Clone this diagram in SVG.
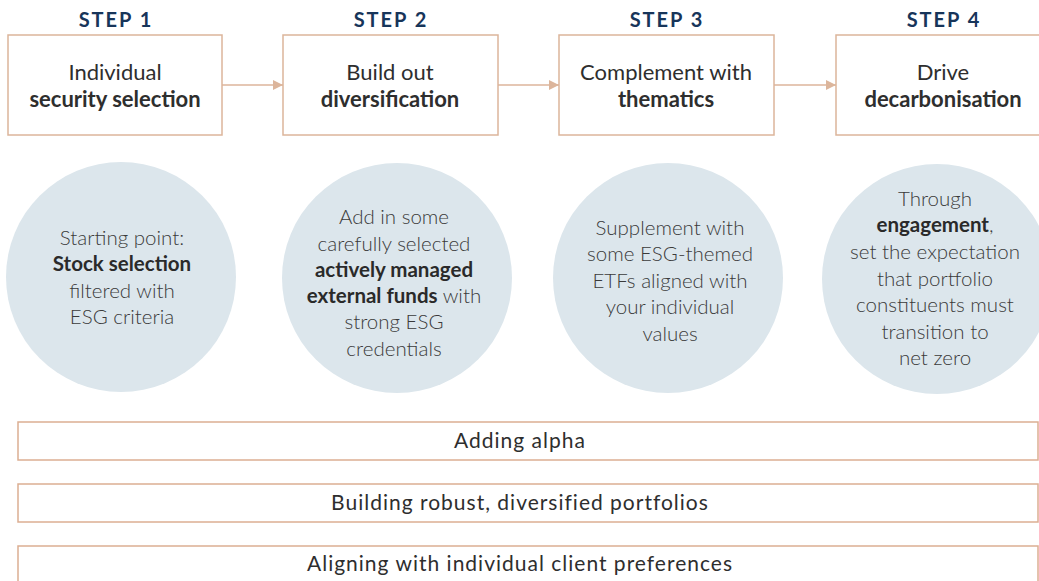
<svg xmlns="http://www.w3.org/2000/svg" width="1039" height="581" viewBox="0 0 1039 581">
<style>
.step{font-family:Lato,"Liberation Sans",sans-serif;font-weight:700;font-size:20px;letter-spacing:2px;fill:#17355a;text-anchor:middle}
.box{fill:#fff;stroke:#dcb59b;stroke-width:1.5}
.bt{font-family:Lato,"Liberation Sans",sans-serif;font-size:22px;fill:#2e2e2e;text-anchor:middle}
.b{font-weight:700}
.circ{fill:#dce6ec}
.ct{font-family:Lato,"Liberation Sans",sans-serif;font-weight:300;font-size:20.5px;fill:#3a3a3a;text-anchor:middle}
.ct .b{font-weight:700;fill:#2a2a2a}
.bar{fill:#fff;stroke:#dcae92;stroke-width:1.5}
.bart{font-family:Lato,"Liberation Sans",sans-serif;font-size:21px;letter-spacing:1px;fill:#2e2e2e;text-anchor:middle}
.conn{stroke:#dcb59b;stroke-width:1.5;fill:none}
</style>
<defs>
<marker id="ah" markerWidth="10" markerHeight="10" refX="10" refY="5" orient="auto" markerUnits="userSpaceOnUse">
<path d="M0,0 L10,5 L0,10 Z" fill="#dcb59b"/>
</marker>
</defs>
<rect width="1039" height="581" fill="#fff"/>

<g id="step1">
<text class="step" x="116" y="27">STEP 1</text>
<rect class="box" x="8" y="35" width="214" height="100"/>
<text class="bt" x="115" y="80">Individual</text>
<text class="bt b" x="115" y="107">security selection</text>
</g>
<g id="step2">
<text class="step" x="391" y="27">STEP 2</text>
<rect class="box" x="283" y="35" width="215" height="100"/>
<text class="bt" x="390" y="80">Build out</text>
<text class="bt b" x="390" y="107">diversification</text>
</g>
<g id="step3">
<text class="step" x="667" y="27">STEP 3</text>
<rect class="box" x="559" y="35" width="215" height="100"/>
<text class="bt" x="666" y="80">Complement with</text>
<text class="bt b" x="666" y="107">thematics</text>
</g>
<g id="step4">
<text class="step" x="944" y="27">STEP 4</text>
<rect class="box" x="836" y="35" width="215" height="100"/>
<text class="bt" x="943" y="80">Drive</text>
<text class="bt b" x="943" y="107">decarbonisation</text>
</g>

<g id="connectors">
<line class="conn" x1="222" y1="85" x2="283" y2="85" marker-end="url(#ah)"/>
<line class="conn" x1="498" y1="85" x2="559" y2="85" marker-end="url(#ah)"/>
<line class="conn" x1="774" y1="85" x2="836" y2="85" marker-end="url(#ah)"/>
</g>

<g id="circle1">
<circle class="circ" cx="121" cy="277" r="115"/>
<text class="ct"><tspan x="122" y="245">Starting point:</tspan><tspan x="122" y="271" class="b">Stock selection</tspan><tspan x="122" y="298">filtered with</tspan><tspan x="122" y="324">ESG criteria</tspan></text>
</g>
<g id="circle2">
<circle class="circ" cx="397" cy="278" r="115"/>
<text class="ct"><tspan x="394" y="224">Add in some</tspan><tspan x="394" y="251">carefully selected</tspan><tspan x="394" y="277" class="b">actively managed</tspan><tspan x="394" y="303"><tspan class="b">external funds</tspan> with</tspan><tspan x="394" y="329">strong ESG</tspan><tspan x="394" y="356">credentials</tspan></text>
</g>
<g id="circle3">
<circle class="circ" cx="668" cy="278" r="115"/>
<text class="ct"><tspan x="670" y="235">Supplement with</tspan><tspan x="670" y="261">some ESG-themed</tspan><tspan x="670" y="288">ETFs aligned with</tspan><tspan x="670" y="314">your individual</tspan><tspan x="670" y="341">values</tspan></text>
</g>
<g id="circle4">
<circle class="circ" cx="937" cy="279" r="115"/>
<text class="ct"><tspan x="935" y="206">Through</tspan><tspan x="935" y="232"><tspan class="b">engagement</tspan>,</tspan><tspan x="935" y="259">set the expectation</tspan><tspan x="935" y="286">that portfolio</tspan><tspan x="935" y="312">constituents must</tspan><tspan x="935" y="339">transition to</tspan><tspan x="935" y="365">net zero</tspan></text>
</g>

<g id="bar1">
<rect class="bar" x="18" y="422" width="1020" height="38"/>
<text class="bart" x="520" y="448">Adding alpha</text>
</g>
<g id="bar2">
<rect class="bar" x="18" y="484" width="1020" height="38"/>
<text class="bart" x="520" y="510">Building robust, diversified portfolios</text>
</g>
<g id="bar3">
<rect class="bar" x="18" y="546" width="1020" height="40"/>
<text class="bart" x="520" y="571">Aligning with individual client preferences</text>
</g>
</svg>
